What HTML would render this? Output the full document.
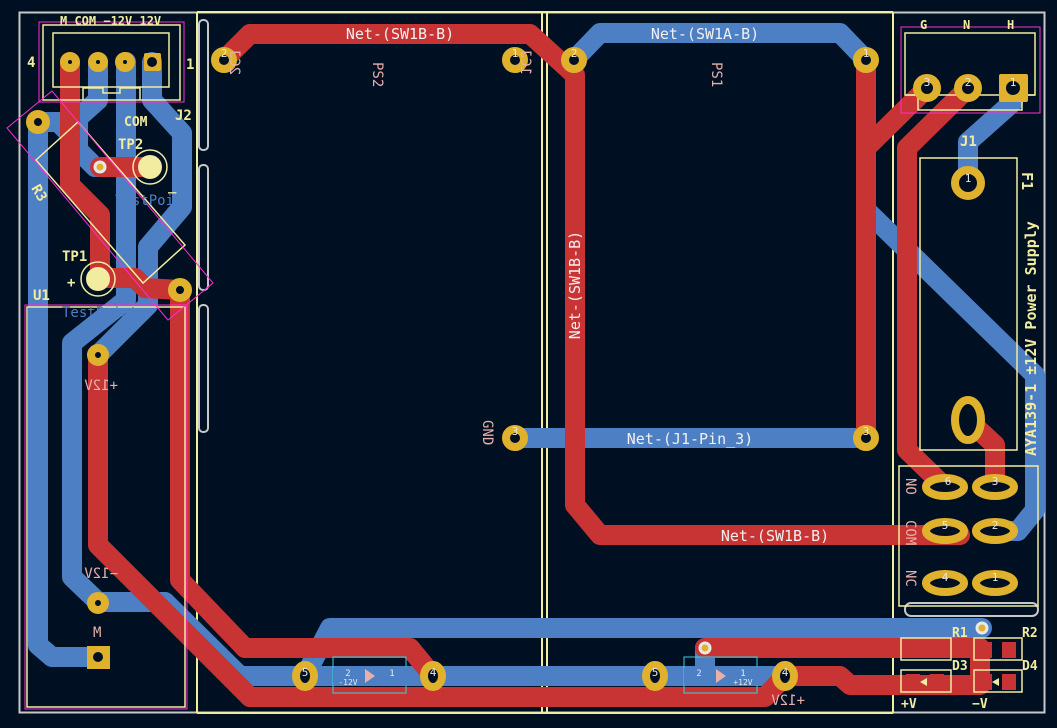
<!DOCTYPE html>
<html><head><meta charset="utf-8"><style>
html,body{margin:0;padding:0;background:#001023;width:1057px;height:728px;overflow:hidden}
svg{display:block}
text{font-family:"DejaVu Sans Mono","Liberation Mono",monospace}
</style></head><body>
<svg width="1057" height="728" viewBox="0 0 1057 728" xmlns="http://www.w3.org/2000/svg">
<rect width="1057" height="728" fill="#001023"/>
<rect x="19.5" y="12.5" width="1025" height="700" fill="none" stroke="#c8c8c8" stroke-width="2"/>
<g stroke="#f2eca0" stroke-width="2" fill="none">
<line x1="197" y1="12" x2="197" y2="713"/>
<line x1="542" y1="12" x2="542" y2="713"/>
<line x1="547" y1="12" x2="547" y2="713"/>
<line x1="893" y1="12" x2="893" y2="713"/>
<line x1="197" y1="12" x2="893" y2="12"/>
<line x1="197" y1="713" x2="893" y2="713"/>
</g>
<g stroke="#c8c8c8" stroke-width="2" fill="none">
<rect x="199" y="20" width="9" height="130" rx="4"/>
<rect x="199" y="165" width="9" height="125" rx="4"/>
<rect x="199" y="305" width="9" height="127" rx="4"/>
<rect x="905" y="603" width="133" height="13" rx="6"/>
</g>

<g stroke="#4d7fc4" stroke-width="20" fill="none" stroke-linejoin="round" stroke-linecap="round">
<polyline points="574,60 600,33 840,33 866,60 866,210 1035,375 1035,510 1018,531 995,531"/>
<polyline points="515,438 866,438"/>
<polyline points="1013,88 1013,102 968,142 968,183"/>
<polyline points="305,676 330,628 982,628"/>
<polyline points="240,676 785,676"/>
<polyline points="98,602 165,602 240,676"/>
<polyline points="705,648 705,676"/>
<polyline points="98,62 98,100 78,118 78,150 95,167 100,167"/>
<polyline points="38,122 58,122 78,142"/>
<polyline points="38,122 38,645 52,657 98,657"/>
<polyline points="126,62 126,300 72,343 72,577 98,602"/>
<polyline points="152,62 152,100 182,133 182,207 148,247 148,305 98,355"/>
</g>

<g stroke="#c83434" stroke-width="20" fill="none" stroke-linejoin="round" stroke-linecap="round">
<polyline points="224,60 250,34 530,34 575,75 575,505 600,535 960,535"/>
<polyline points="866,60 866,438"/>
<polyline points="927,88 866,148"/>
<polyline points="968,88 907,148 907,450 945,487"/>
<polyline points="968,420 995,445 995,487"/>
<polyline points="245,648 410,648 433,676"/>
<polyline points="705,648 980,648"/>
<polyline points="250,697 765,697 785,676"/>
<polyline points="785,676 840,676 850,685 945,685"/>
<polyline points="980,648 980,685 945,685"/>
<polyline points="98,355 98,545 250,697"/>
<polyline points="180,290 180,580 245,648"/>
<polyline points="70,62 70,185 100,215 100,278 135,278 145,288 180,290"/>
<polyline points="100,167 150,167"/>
</g>

<g stroke="#f2eca0" stroke-width="1.5" fill="none">
<rect x="43" y="25" width="137" height="75"/>
<rect x="53" y="33" width="116" height="54"/>
<polyline points="83,100 83,88 103,88 103,93 120,93 120,88 140,88 140,100"/>
<rect x="27" y="307" width="158" height="400"/>
<polygon points="36,160 78,122 185,245 143,283"/>
<rect x="905" y="33" width="130" height="62"/>
<polyline points="905,95 918,95 918,110 1022,110 1022,95 1035,95"/>
<rect x="920" y="158" width="97" height="292"/>
<rect x="899" y="466" width="139" height="140"/>
<rect x="901" y="638" width="50" height="22"/><rect x="974" y="638" width="48" height="22"/>
<rect x="901" y="670" width="50" height="22"/><rect x="974" y="670" width="48" height="22"/>
</g>
<g stroke="#ff2ccf" stroke-width="1" fill="none">
<rect x="39" y="22" width="145" height="80"/>
<rect x="25" y="305" width="162" height="404"/>
<polygon points="7,128 52,91 213,283 168,320"/>
<rect x="901" y="27" width="139" height="86"/>
</g>
<g stroke="#3ad0e0" stroke-width="1" fill="none">
<rect x="333" y="657" width="73" height="36"/><rect x="684" y="657" width="73" height="36"/>
</g>

<g fill="#c83434">
<rect x="906" y="642" width="14" height="16"/><rect x="930" y="642" width="14" height="16"/>
<rect x="978" y="642" width="14" height="16"/><rect x="1002" y="642" width="14" height="16"/>
<rect x="906" y="674" width="14" height="16"/><rect x="930" y="674" width="14" height="16"/>
<rect x="978" y="674" width="14" height="16"/><rect x="1002" y="674" width="14" height="16"/>
</g>
<g fill="#4d7fc4">
<rect x="333" y="666" width="30" height="20" rx="3"/><rect x="377" y="666" width="30" height="20" rx="3"/>
<rect x="684" y="666" width="30" height="20" rx="3"/><rect x="728" y="666" width="30" height="20" rx="3"/>
</g>
<g fill="#e8b0a8"><polygon points="365,669 375,676 365,683"/><polygon points="716,669 726,676 716,683"/></g>
<g fill="#f2eca0"><polygon points="920,682 927,678 927,686"/><polygon points="992,682 999,678 999,686"/></g>

<g fill="#001023" stroke="#e0b12c" stroke-width="8">
<circle cx="224" cy="60" r="9"/><circle cx="515" cy="60" r="9"/><circle cx="515" cy="438" r="9"/>
<circle cx="574" cy="60" r="9"/><circle cx="866" cy="60" r="9"/><circle cx="866" cy="438" r="9"/>
<ellipse cx="305" cy="676" rx="9" ry="11"/><ellipse cx="433" cy="676" rx="9" ry="11"/>
<ellipse cx="655" cy="676" rx="9" ry="11"/><ellipse cx="785" cy="676" rx="9" ry="11"/>
<circle cx="38" cy="122" r="8"/><circle cx="180" cy="290" r="8"/>
<circle cx="70" cy="62" r="6"/><circle cx="98" cy="62" r="6"/><circle cx="125" cy="62" r="6"/>
<circle cx="98" cy="355" r="7"/><circle cx="98" cy="603" r="7"/>
<circle cx="927" cy="88" r="10"/><circle cx="968" cy="88" r="10"/>
<circle cx="968" cy="183" r="13"/>
<ellipse cx="968" cy="420" rx="13" ry="20"/>
<ellipse cx="945" cy="487" rx="19" ry="9"/><ellipse cx="995" cy="487" rx="19" ry="9"/>
<ellipse cx="945" cy="531" rx="19" ry="9"/><ellipse cx="995" cy="531" rx="19" ry="9"/>
<ellipse cx="945" cy="583" rx="19" ry="9"/><ellipse cx="995" cy="583" rx="19" ry="9"/>
</g>
<g fill="#e0b12c">
<rect x="144" y="53" width="17" height="18" rx="2"/>
<rect x="87" y="646" width="23" height="23"/>
<rect x="999" y="74" width="29" height="28" rx="2"/>
</g>
<g fill="#001023">
<circle cx="152" cy="62" r="5"/><circle cx="98" cy="657" r="5"/><circle cx="1013" cy="88" r="7"/>
</g>
<g fill="#e0b12c" stroke="#e8e8e8" stroke-width="3">
<circle cx="100" cy="167" r="5"/><circle cx="705" cy="648" r="5"/><circle cx="982" cy="628" r="5"/>
</g>
<g fill="#f2eca0"><circle cx="150" cy="167" r="12"/><circle cx="98" cy="279" r="12"/></g>
<g fill="none" stroke="#f2eca0" stroke-width="1.5"><circle cx="150" cy="167" r="17"/><circle cx="98" cy="279" r="17"/></g>

<g fill="#e8e8e8" font-size="11" text-anchor="middle">
<text x="224" y="57">2</text><text x="515" y="57">1</text><text x="515" y="435">3</text>
<text x="574" y="57">2</text><text x="866" y="57">1</text><text x="866" y="435">3</text>
<text x="305" y="676">5</text><text x="433" y="676">4</text><text x="655" y="676">5</text><text x="785" y="676">4</text>
<text x="927" y="86">3</text><text x="968" y="86">2</text><text x="1013" y="86">1</text>
<text x="968" y="182">1</text><text x="948" y="485">6</text><text x="995" y="485">3</text>
<text x="945" y="529">5</text><text x="995" y="529">2</text><text x="945" y="581">4</text><text x="995" y="581">1</text>
<text x="348" y="676" font-size="9">2</text><text x="392" y="676" font-size="9">1</text>
<text x="699" y="676" font-size="9">2</text><text x="743" y="676" font-size="9">1</text>
<text x="348" y="685" font-size="8">-12V</text><text x="743" y="685" font-size="8">+12V</text>
</g>

<g fill="#f0f0f0" font-size="15" font-family="Liberation Sans,sans-serif" text-anchor="middle">
<text x="400" y="39">Net-(SW1B-B)</text>
<text x="705" y="39">Net-(SW1A-B)</text>
<text x="690" y="444">Net-(J1-Pin_3)</text>
<text x="775" y="541">Net-(SW1B-B)</text>
<text transform="translate(580,285) rotate(-90)">Net-(SW1B-B)</text>
</g>

<g fill="#f2eca0" font-size="14" font-weight="bold">
<text x="60" y="25" font-size="12">M  COM −12V 12V</text>
<text x="27" y="67">4</text><text x="186" y="69">1</text>
<text x="175" y="120">J2</text>
<text x="124" y="126" font-size="13">COM</text>
<text x="118" y="149">TP2</text>
<text x="62" y="261">TP1</text>
<text x="67" y="287">+</text><text x="168" y="190">_</text>
<text x="33" y="300">U1</text>
<text x="960" y="146">J1</text>
<text x="920" y="29" font-size="12">G</text><text x="963" y="29" font-size="12">N</text><text x="1007" y="29" font-size="12">H</text>
<text transform="translate(1036,456) rotate(-90)" font-size="15">AYA139-1 ±12V Power Supply</text>
<text transform="translate(1022,172) rotate(90)" font-size="15">F1</text>
<text transform="translate(31,188) rotate(60)">R3</text>
<text x="952" y="637" font-size="13">R1</text><text x="1022" y="637" font-size="13">R2</text>
<text x="952" y="670" font-size="13">D3</text><text x="1022" y="670" font-size="13">D4</text>
<text x="901" y="708" font-size="13">+V</text><text x="972" y="708" font-size="13">−V</text>
</g>
<g fill="#4d7fc4" font-size="14"><text x="115" y="205">TestPoint</text><text x="62" y="317">TestPoint</text></g>

<g fill="#e8b0a8" font-size="14">
<text transform="translate(373,62) rotate(90)">PS2</text>
<text transform="translate(712,62) rotate(90)">PS1</text>
<text transform="translate(230,75) rotate(90) scale(-1,1)">2CJ</text>
<text transform="translate(521,75) rotate(90) scale(-1,1)">1CJ</text>
<text transform="translate(483,420) rotate(90)">GND</text>
<text transform="translate(118,390) scale(-1,1)">+12V</text>
<text transform="translate(118,578) scale(-1,1)">−12V</text>
<text x="93" y="637">M</text>
<text transform="translate(906,478) rotate(90)">NO</text>
<text transform="translate(906,520) rotate(90)">COM</text>
<text transform="translate(906,570) rotate(90)">NC</text>
<text transform="translate(805,705) scale(-1,1)">+12V</text>
</g>
</svg>
</body></html>
